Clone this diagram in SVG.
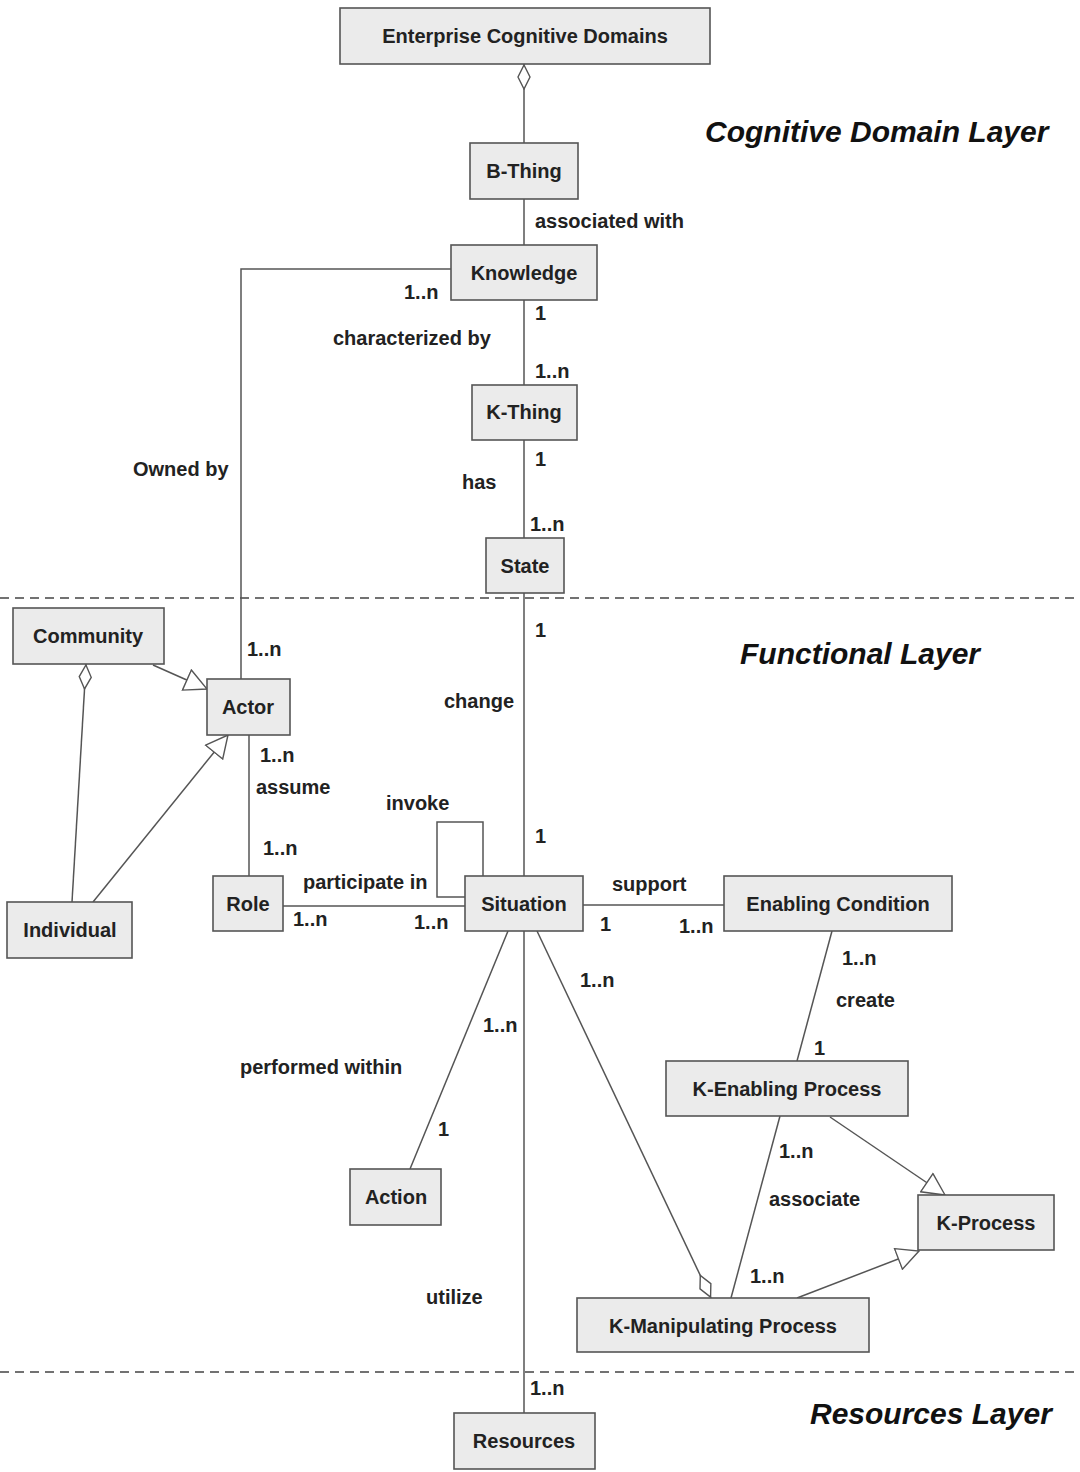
<svg xmlns="http://www.w3.org/2000/svg" width="1080" height="1472" viewBox="0 0 1080 1472">
<style>
.node rect{fill:#ebebeb;stroke:#555;stroke-width:1.6}
.node text{font-family:"Liberation Sans",Arial,sans-serif;font-weight:bold;font-size:20px;fill:#222;text-anchor:middle}
.conn line,.conn polyline{stroke:#555;stroke-width:1.5;fill:none}
.lbl{font-family:"Liberation Sans",Arial,sans-serif;font-weight:bold;font-size:20px;fill:#222}
.layer{font-family:"Liberation Sans",Arial,sans-serif;font-weight:bold;font-style:italic;font-size:30px;fill:#111}
.sep{stroke:#444;stroke-width:1.5;stroke-dasharray:9,6}
</style>
<defs>
<marker id="dia" viewBox="0 0 26 14" refX="0" refY="7" markerWidth="26" markerHeight="14" markerUnits="userSpaceOnUse" orient="auto">
<path d="M1,7 L13,1 L25,7 L13,13 Z" fill="#fff" stroke="#555" stroke-width="1.4"/>
</marker>
<marker id="tri" viewBox="0 0 24 24" refX="23" refY="12" markerWidth="24" markerHeight="24" markerUnits="userSpaceOnUse" orient="auto">
<path d="M1,1 L23,12 L1,23 Z" fill="#fff" stroke="#555" stroke-width="1.4"/>
</marker>
</defs>
<rect width="1080" height="1472" fill="#fff"/>
<g id="separators">
<line class="sep" x1="0" y1="598" x2="1080" y2="598"/>
<line class="sep" x1="0" y1="1372" x2="1080" y2="1372"/>
</g>
<g id="layers">
<text class="layer" x="705" y="142">Cognitive Domain Layer</text>
<text class="layer" x="740" y="664">Functional Layer</text>
<text class="layer" x="810" y="1424">Resources Layer</text>
</g>
<g id="connectors" class="conn">
<line x1="524" y1="64" x2="524" y2="143" marker-start="url(#dia)"/>
<line x1="524" y1="199" x2="524" y2="245"/>
<polyline points="451,269 241,269 241,679"/>
<line x1="524" y1="300" x2="524" y2="385"/>
<line x1="524" y1="440" x2="524" y2="538"/>
<line x1="524" y1="593" x2="524" y2="876"/>
<polyline points="483,876 483,822 437,822 437,897 465,897"/>
<line x1="283" y1="906" x2="465" y2="906"/>
<line x1="583" y1="905" x2="724" y2="905"/>
<line x1="249" y1="735" x2="249" y2="876"/>
<line x1="153" y1="665" x2="207" y2="689" marker-end="url(#tri)"/>
<line x1="86" y1="664" x2="72" y2="902" marker-start="url(#dia)"/>
<line x1="93" y1="902" x2="228" y2="735" marker-end="url(#tri)"/>
<line x1="832" y1="931" x2="797" y2="1061"/>
<line x1="508" y1="931" x2="410" y2="1169"/>
<line x1="524" y1="931" x2="524" y2="1413"/>
<line x1="711" y1="1298" x2="537" y2="931" marker-start="url(#dia)"/>
<line x1="780" y1="1116" x2="731" y2="1298"/>
<line x1="830" y1="1117" x2="945" y2="1195" marker-end="url(#tri)"/>
<line x1="797" y1="1298" x2="919" y2="1251" marker-end="url(#tri)"/>
</g>
<g id="labels">
<text class="lbl" x="535" y="228">associated with</text>
<text class="lbl" x="404" y="299">1..n</text>
<text class="lbl" x="133" y="476">Owned by</text>
<text class="lbl" x="247" y="656">1..n</text>
<text class="lbl" x="535" y="320">1</text>
<text class="lbl" x="333" y="345">characterized by</text>
<text class="lbl" x="535" y="378">1..n</text>
<text class="lbl" x="535" y="466">1</text>
<text class="lbl" x="462" y="489">has</text>
<text class="lbl" x="530" y="531">1..n</text>
<text class="lbl" x="535" y="637">1</text>
<text class="lbl" x="444" y="708">change</text>
<text class="lbl" x="535" y="843">1</text>
<text class="lbl" x="386" y="810">invoke</text>
<text class="lbl" x="260" y="762">1..n</text>
<text class="lbl" x="256" y="794">assume</text>
<text class="lbl" x="263" y="855">1..n</text>
<text class="lbl" x="303" y="889">participate in</text>
<text class="lbl" x="293" y="926">1..n</text>
<text class="lbl" x="414" y="929">1..n</text>
<text class="lbl" x="612" y="891">support</text>
<text class="lbl" x="600" y="931">1</text>
<text class="lbl" x="679" y="933">1..n</text>
<text class="lbl" x="842" y="965">1..n</text>
<text class="lbl" x="836" y="1007">create</text>
<text class="lbl" x="814" y="1055">1</text>
<text class="lbl" x="580" y="987">1..n</text>
<text class="lbl" x="483" y="1032">1..n</text>
<text class="lbl" x="240" y="1074">performed within</text>
<text class="lbl" x="438" y="1136">1</text>
<text class="lbl" x="779" y="1158">1..n</text>
<text class="lbl" x="769" y="1206">associate</text>
<text class="lbl" x="750" y="1283">1..n</text>
<text class="lbl" x="426" y="1304">utilize</text>
<text class="lbl" x="530" y="1395">1..n</text>
</g>
<g id="n-ecd" class="node"><rect x="340" y="8" width="370" height="56"/><text x="525" y="43">Enterprise Cognitive Domains</text></g>
<g id="n-bthing" class="node"><rect x="470" y="143" width="108" height="56"/><text x="524" y="178">B-Thing</text></g>
<g id="n-knowledge" class="node"><rect x="451" y="245" width="146" height="55"/><text x="524" y="280">Knowledge</text></g>
<g id="n-kthing" class="node"><rect x="472" y="385" width="105" height="55"/><text x="524" y="419">K-Thing</text></g>
<g id="n-state" class="node"><rect x="486" y="538" width="78" height="55"/><text x="525" y="573">State</text></g>
<g id="n-community" class="node"><rect x="13" y="608" width="151" height="56"/><text x="88" y="643">Community</text></g>
<g id="n-actor" class="node"><rect x="207" y="679" width="83" height="56"/><text x="248" y="714">Actor</text></g>
<g id="n-role" class="node"><rect x="213" y="876" width="70" height="55"/><text x="248" y="911">Role</text></g>
<g id="n-individual" class="node"><rect x="7" y="902" width="125" height="56"/><text x="70" y="937">Individual</text></g>
<g id="n-situation" class="node"><rect x="465" y="876" width="118" height="55"/><text x="524" y="911">Situation</text></g>
<g id="n-enabling" class="node"><rect x="724" y="876" width="228" height="55"/><text x="838" y="911">Enabling Condition</text></g>
<g id="n-kep" class="node"><rect x="666" y="1061" width="242" height="55"/><text x="787" y="1096">K-Enabling Process</text></g>
<g id="n-action" class="node"><rect x="350" y="1169" width="91" height="56"/><text x="396" y="1204">Action</text></g>
<g id="n-kprocess" class="node"><rect x="918" y="1195" width="136" height="55"/><text x="986" y="1230">K-Process</text></g>
<g id="n-kmp" class="node"><rect x="577" y="1298" width="292" height="54"/><text x="723" y="1333">K-Manipulating Process</text></g>
<g id="n-resources" class="node"><rect x="454" y="1413" width="141" height="56"/><text x="524" y="1448">Resources</text></g>
</svg>
